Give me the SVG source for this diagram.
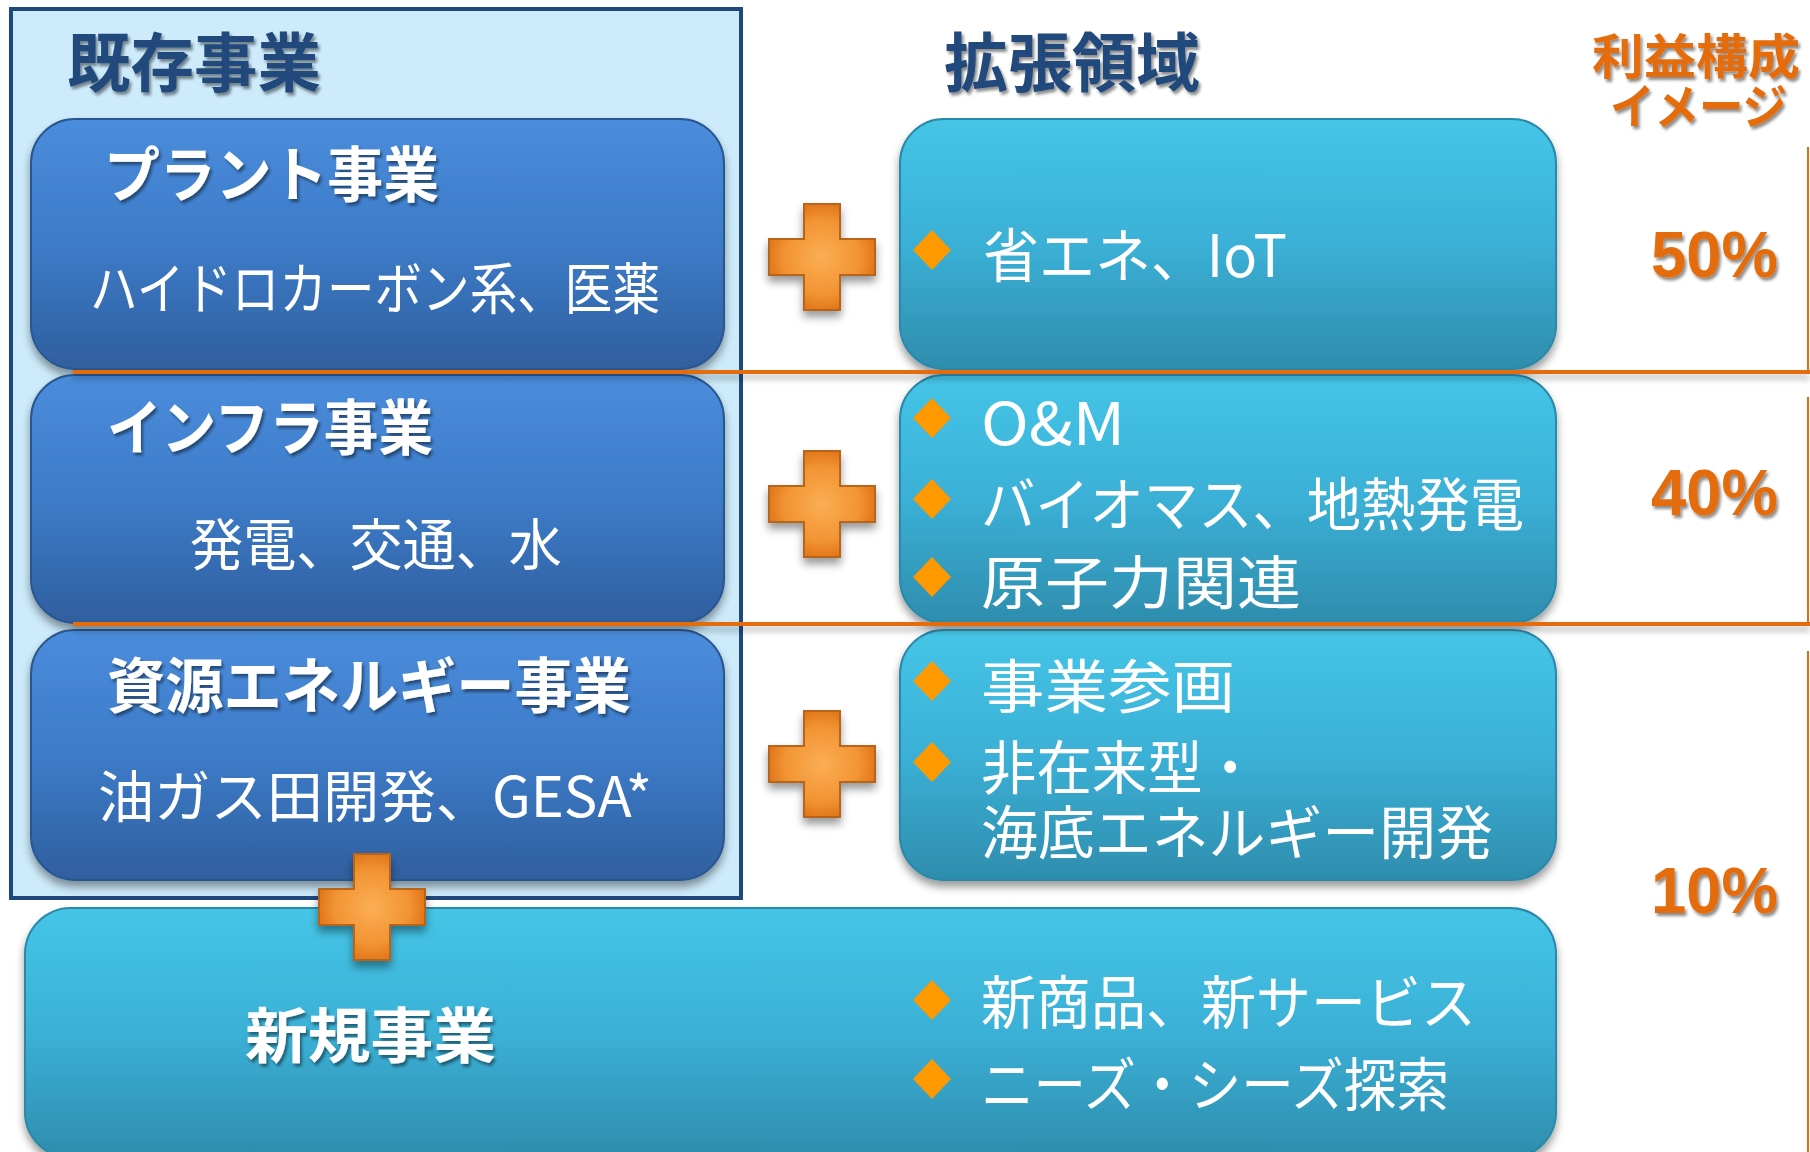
<svg xmlns="http://www.w3.org/2000/svg" width="1810" height="1152" viewBox="0 0 1810 1152">
<defs>
<linearGradient id="gBlue" x1="0" y1="0" x2="0" y2="1">
<stop offset="0" stop-color="#4a8ddc"/>
<stop offset="0.5" stop-color="#3d7bc8"/>
<stop offset="1" stop-color="#2f5f9f"/>
</linearGradient>
<linearGradient id="gCyan" x1="0" y1="0" x2="0" y2="1">
<stop offset="0" stop-color="#45c5e7"/>
<stop offset="0.5" stop-color="#3bb0d6"/>
<stop offset="1" stop-color="#2e8dad"/>
</linearGradient>
<radialGradient id="gPlus" cx="0.5" cy="0.5" r="0.5">
<stop offset="0" stop-color="#fbae55"/>
<stop offset="0.7" stop-color="#f29433"/>
<stop offset="1" stop-color="#e2781c"/>
</radialGradient>
<filter id="boxShadow" x="-10%" y="-10%" width="120%" height="130%">
<feDropShadow dx="0" dy="6" stdDeviation="4" flood-color="#000" flood-opacity="0.4"/>
</filter>
<filter id="txtShadow" x="-10%" y="-20%" width="120%" height="150%">
<feDropShadow dx="2" dy="3" stdDeviation="1.5" flood-color="#000" flood-opacity="0.45"/>
</filter>
<filter id="lineShadow" filterUnits="userSpaceOnUse" x="0" y="0" width="1810" height="1152">
<feDropShadow dx="0" dy="5" stdDeviation="3" flood-color="#000" flood-opacity="0.3"/>
</filter>
<path id="plus" d="M -18 -53 H 18 V -18 H 53 V 18 H 18 V 53 H -18 V 18 H -53 V -18 H -18 Z"/>
<polygon id="dia" points="0,-20 19,0 0,20 -19,0"/>
</defs>
<style>
.jp{font-family:"Noto Sans CJK JP","Noto Sans CJK SC",sans-serif;}
.title{font-weight:700;font-size:60px;fill:#ffffff;}
.head{font-weight:700;font-size:64px;fill:#24487c;}
.sub{font-size:56px;fill:#ffffff;}
.item{font-size:58px;fill:#ffffff;}
.org{font-weight:700;font-size:48px;fill:#e46c0a;}
.pct{font-family:"Liberation Sans",Arial,sans-serif;font-weight:700;font-size:64px;fill:#e46c0a;}
.bbox{fill:url(#gBlue);stroke:#2c5790;stroke-width:2;}
.cbox{fill:url(#gCyan);stroke:#2b88a8;stroke-width:2;}
.dia{fill:#ff9900;}
.plus{fill:url(#gPlus);stroke:#b8651c;stroke-width:2;}
.div{stroke:#e46c0a;stroke-width:4;fill:none;}
.vline{stroke:#e46c0a;stroke-width:2;fill:none;}
</style>

<rect width="1810" height="1152" fill="#ffffff"/>

<g id="existing-frame">
<rect x="11" y="9" width="730" height="889" fill="#cdebfb" stroke="#1f487c" stroke-width="4"/>
<text class="jp head" x="67" y="86" textLength="254" lengthAdjust="spacingAndGlyphs" filter="url(#txtShadow)">既存事業</text>
</g>

<g id="expansion-header">
<text class="jp head" x="944" y="86" textLength="256" lengthAdjust="spacingAndGlyphs" filter="url(#txtShadow)">拡張領域</text>
</g>

<g id="profit-header">
<text class="jp org" x="1592" y="74" textLength="208" lengthAdjust="spacingAndGlyphs" filter="url(#txtShadow)">利益構成</text>
<text class="jp org" x="1610" y="124" textLength="177" lengthAdjust="spacingAndGlyphs" filter="url(#txtShadow)">イメージ</text>
</g>

<g id="plant">
<rect class="bbox" x="31" y="119" width="693" height="250" rx="44" filter="url(#boxShadow)"/>
<text class="jp title" x="104" y="197" textLength="335" lengthAdjust="spacingAndGlyphs" filter="url(#txtShadow)">プラント事業</text>
<text class="jp sub" x="90" y="309" textLength="570" lengthAdjust="spacingAndGlyphs">ハイドロカーボン系、医薬</text>
</g>

<g id="infra">
<rect class="bbox" x="31" y="375" width="693" height="248" rx="44" filter="url(#boxShadow)"/>
<text class="jp title" x="107" y="450" textLength="326" lengthAdjust="spacingAndGlyphs" filter="url(#txtShadow)">インフラ事業</text>
<text class="jp sub" x="190" y="565" textLength="372" lengthAdjust="spacingAndGlyphs">発電、交通、水</text>
</g>

<g id="resource">
<rect class="bbox" x="31" y="630" width="693" height="250" rx="44" filter="url(#boxShadow)"/>
<text class="jp title" x="107" y="708" textLength="524" lengthAdjust="spacingAndGlyphs" filter="url(#txtShadow)">資源エネルギー事業</text>
<text class="jp sub" x="98" y="817" textLength="554" lengthAdjust="spacingAndGlyphs">油ガス田開発、GESA*</text>
</g>

<g id="ext-plant">
<rect class="cbox" x="900" y="119" width="656" height="250" rx="44" filter="url(#boxShadow)"/>
<use href="#dia" class="dia" x="932" y="250"/>
<text class="jp item" x="983" y="277" textLength="304" lengthAdjust="spacingAndGlyphs">省エネ、IoT</text>
</g>

<g id="ext-infra">
<rect class="cbox" x="900" y="375" width="656" height="248" rx="44" filter="url(#boxShadow)"/>
<use href="#dia" class="dia" x="932" y="418"/>
<text class="jp item" x="981" y="445" textLength="144" lengthAdjust="spacingAndGlyphs">O&amp;M</text>
<use href="#dia" class="dia" x="932" y="499"/>
<text class="jp item" x="981" y="526" textLength="543" lengthAdjust="spacingAndGlyphs">バイオマス、地熱発電</text>
<use href="#dia" class="dia" x="932" y="577"/>
<text class="jp item" x="981" y="604" textLength="320" lengthAdjust="spacingAndGlyphs">原子力関連</text>
</g>

<g id="ext-resource">
<rect class="cbox" x="900" y="630" width="656" height="250" rx="44" filter="url(#boxShadow)"/>
<use href="#dia" class="dia" x="932" y="681"/>
<text class="jp item" x="981" y="708" textLength="254" lengthAdjust="spacingAndGlyphs">事業参画</text>
<use href="#dia" class="dia" x="932" y="762"/>
<text class="jp item" x="981" y="789" textLength="277" lengthAdjust="spacingAndGlyphs">非在来型・</text>
<text class="jp item" x="981" y="854" textLength="512" lengthAdjust="spacingAndGlyphs">海底エネルギー開発</text>
</g>

<g id="new-business">
<rect class="cbox" x="25" y="908" width="1531" height="250" rx="46" filter="url(#boxShadow)"/>
<text class="jp title" x="245" y="1058" textLength="251" lengthAdjust="spacingAndGlyphs" filter="url(#txtShadow)">新規事業</text>
<use href="#dia" class="dia" x="932" y="1000"/>
<text class="jp item" x="981" y="1024" textLength="495" lengthAdjust="spacingAndGlyphs">新商品、新サービス</text>
<use href="#dia" class="dia" x="932" y="1079"/>
<text class="jp item" x="981" y="1106" textLength="468" lengthAdjust="spacingAndGlyphs">ニーズ・シーズ探索</text>
</g>

<g id="dividers">
<line class="div" x1="73" y1="372" x2="1810" y2="372" filter="url(#lineShadow)"/>
<line class="div" x1="73" y1="624" x2="1810" y2="624" filter="url(#lineShadow)"/>
<line class="vline" x1="1808" y1="147" x2="1808" y2="372"/>
<line class="vline" x1="1808" y1="397" x2="1808" y2="624"/>
<line class="vline" x1="1808" y1="651" x2="1808" y2="1152"/>
</g>

<g id="percentages">
<text class="pct" x="1651" y="277" textLength="127" lengthAdjust="spacingAndGlyphs" filter="url(#txtShadow)">50%</text>
<text class="pct" x="1651" y="515" textLength="127" lengthAdjust="spacingAndGlyphs" filter="url(#txtShadow)">40%</text>
<text class="pct" x="1651" y="913" textLength="127" lengthAdjust="spacingAndGlyphs" filter="url(#txtShadow)">10%</text>
</g>

<g id="connectors">
<use href="#plus" class="plus" x="822" y="257" filter="url(#boxShadow)"/>
<use href="#plus" class="plus" x="822" y="504" filter="url(#boxShadow)"/>
<use href="#plus" class="plus" x="822" y="764" filter="url(#boxShadow)"/>
<use href="#plus" class="plus" x="372" y="907" filter="url(#boxShadow)"/>
</g>
</svg>
